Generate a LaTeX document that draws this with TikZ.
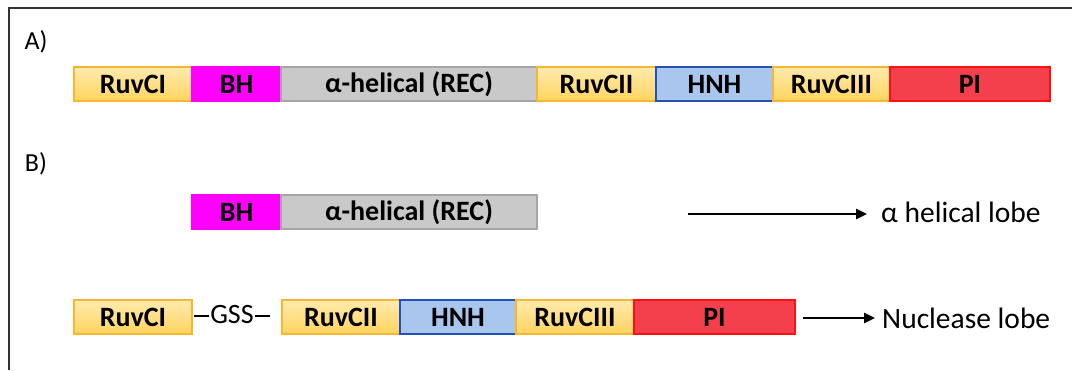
\documentclass[tikz,border=0pt]{standalone}
\usepackage{fontspec}
\setmainfont{Carlito}
\usetikzlibrary{positioning,arrows.meta}
\definecolor{ruvtop}{HTML}{FFEBAE}
\definecolor{ruvbot}{HTML}{FFD35E}
\definecolor{ruvline}{HTML}{F5B731}
\definecolor{bhfill}{HTML}{FF00FF}
\definecolor{recfill}{HTML}{C9C9C9}
\definecolor{recline}{HTML}{A6A6A6}
\definecolor{hnhfill}{HTML}{A9C6EE}
\definecolor{hnhline}{HTML}{2451B8}
\definecolor{pifill}{HTML}{F4404C}
\definecolor{piline}{HTML}{FF1010}
\definecolor{frame}{HTML}{333333}
\tikzset{
  seg/.style={minimum height=34pt, inner sep=0pt, outer sep=0pt, line width=1.4pt, font=\fontsize{28}{28}\selectfont\bfseries, text=black},
  ruv/.style={seg, draw=ruvline, top color=ruvtop, bottom color=ruvbot},
  bh/.style={seg, draw=bhfill, fill=bhfill},
  rec/.style={seg, draw=recline, fill=recfill},
  hnh/.style={seg, draw=hnhline, fill=hnhfill},
  pi/.style={seg, draw=piline, fill=pifill},
  lbl/.style={font=\fontsize{26}{26}\selectfont, inner sep=0pt},
  lobe/.style={font=\fontsize{29.5}{29.5}\selectfont, inner sep=0pt, anchor=west},
  arr/.style={line width=2.5pt, -{Triangle[length=11pt,width=10pt]}},
  dashline/.style={line width=1.6pt},
}
\begin{document}
\begin{tikzpicture}[x=1pt,y=-1pt]
\useasboundingbox (0,0) rectangle (1072,370);
% frame
\draw[frame, line width=2pt] (9,370) -- (9,8) -- (1072,8);
% labels
\node[lbl] (lA) at (36,42) {A)};
\node[lbl] (lB) at (36,164) {B)};
% Row A
\node[ruv, minimum width=118pt] (a1) at (133,84) {RuvCI};
\node[bh, minimum width=89pt, right=0pt of a1] (a2) {BH};
\node[rec, minimum width=256pt, right=0pt of a2] (a3) {α-helical (REC)};
\node[ruv, minimum width=119pt, right=0pt of a3] (a4) {RuvCII};
\node[hnh, minimum width=117pt, right=0pt of a4] (a5) {HNH};
\node[ruv, minimum width=117pt, right=0pt of a5] (a6) {RuvCIII};
\node[pi, minimum width=160pt, right=0pt of a6] (a7) {PI};
% Row B1
\node[bh, minimum width=89pt] (b1) at (236.5,212) {BH};
\node[rec, minimum width=256pt, right=0pt of b1] (b2) {α-helical (REC)};
% Row B2
\node[ruv, minimum width=118pt] (c1) at (133,317) {RuvCI};
\node[lbl, font=\fontsize{28}{28}\selectfont] (gss) at (232,315) {GSS};
\draw[dashline] ([xshift=-1pt,yshift=-1pt]gss.west) -- ++(-15,0);
\draw[dashline] ([xshift=1pt,yshift=-1pt]gss.east) -- ++(15,0);
\node[ruv, minimum width=118pt] (c2) at (341,317) {RuvCII};
\node[hnh, minimum width=116pt, right=0pt of c2] (c3) {HNH};
\node[ruv, minimum width=118pt, right=0pt of c3] (c4) {RuvCIII};
\node[pi, minimum width=161pt, right=0pt of c4] (c5) {PI};
% lobe labels
\node[lobe] (hl) at (881,212) {α helical lobe};
\node[lobe] (nl) at (882,318) {Nuclease lobe};
\coordinate (hs) at (688,214);
\draw[arr] (hs) -- ([xshift=-14pt]hl.west |- hs);
\draw[arr] ([xshift=8pt]c5.east |- nl.west) -- ([xshift=-7pt]nl.west);
\end{tikzpicture}
\end{document}
